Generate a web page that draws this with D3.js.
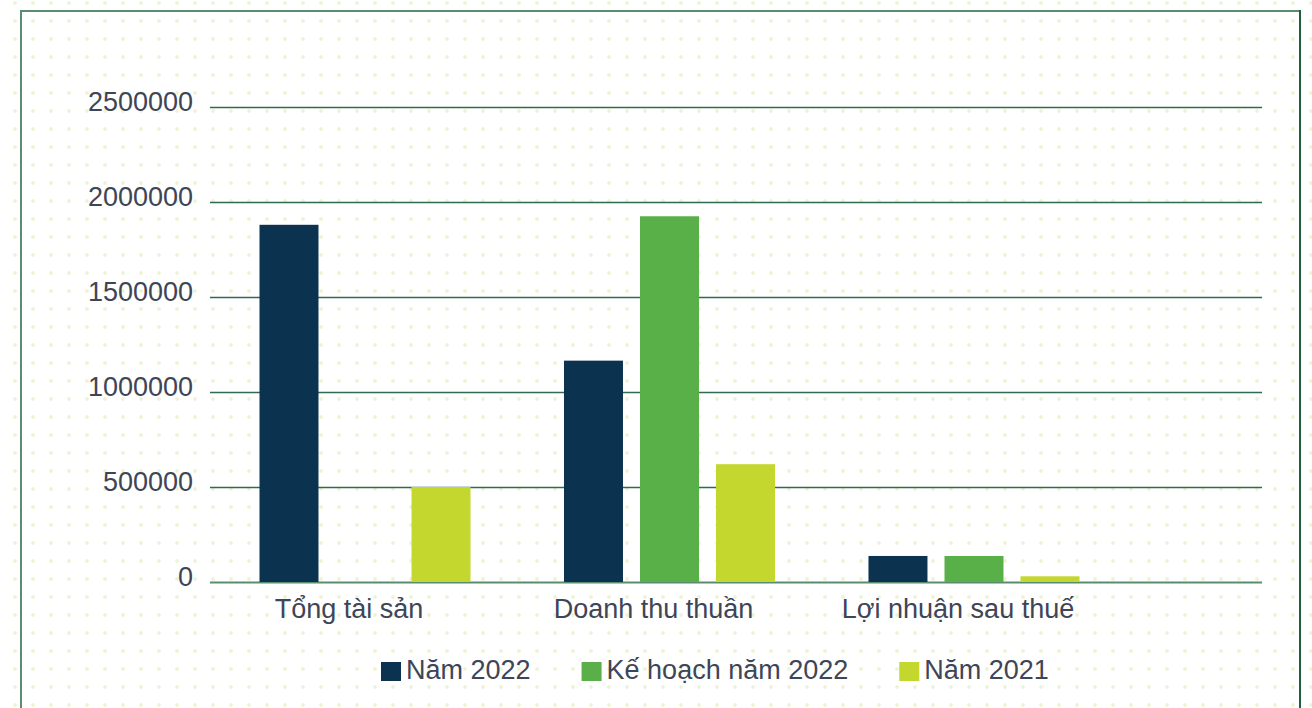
<!DOCTYPE html>
<html>
<head>
<meta charset="utf-8">
<script src="https://cdn.jsdelivr.net/npm/d3@7"></script>
<style>
  html, body { margin: 0; padding: 0; background: #ffffff; }
  svg { display: block; }
  text { font-family: "Liberation Sans", Arial, Helvetica, sans-serif; }
</style>
</head>
<body>
<svg id="chart" width="1312" height="708"></svg>
<script>
// ---- data ----
const categories = ["Tổng tài sản", "Doanh thu thuần", "Lợi nhuận sau thuế"];
const seriesNames = ["Năm 2022", "Kế hoạch năm 2022", "Năm 2021"];
const nam2022 = [1880000, 1165000, 137000];
const keHoach2022 = [0, 1925000, 137000];
const nam2021 = [500000, 620000, 30000];
const yTicks = [0, 500000, 1000000, 1500000, 2000000, 2500000];

const seriesValues = [nam2022, keHoach2022, nam2021];
const colors = ["#0b3350", "#5ab048", "#c3d72e"];
const textColor = "#3e4557";
const fontSize = 27;

const W = 1312, H = 708;
const svg = d3.select("#chart");

// dotted background
const dotsG = svg.append("g");
const dotX = d3.range(15, W, 18);
const dotY = d3.range(3, H, 18);
dotY.forEach(yy => {
  dotsG.selectAll(null).data(dotX).enter().append("circle")
    .attr("cx", d => d).attr("cy", yy).attr("r", 1.9).attr("fill", "#edf3d5");
});

// frame
svg.append("line").attr("x1", 21).attr("x2", 21).attr("y1", 11).attr("y2", H + 5)
  .attr("stroke", "#5b8b70").attr("stroke-width", 2);
svg.append("line").attr("x1", 20).attr("x2", 1301).attr("y1", 11).attr("y2", 11)
  .attr("stroke", "#5b8b70").attr("stroke-width", 2);
svg.append("line").attr("x1", 1300).attr("x2", 1300).attr("y1", 10).attr("y2", H + 5)
  .attr("stroke", "#1f5f3c").attr("stroke-width", 2);

// scales
const plotLeft = 210, plotRight = 1262, plotTop = 107, plotBottom = 582;
const y = d3.scaleLinear().domain([0, 2500000]).range([plotBottom, plotTop]);
const x0 = d3.scaleBand().domain(categories).range([259.5, 1079.5]).paddingInner(0.307).paddingOuter(0);
const x1 = d3.scaleBand().domain(seriesNames).range([0, x0.bandwidth()]).paddingInner(0.224).paddingOuter(0);

// y axis with gridlines
const yAxis = svg.append("g").attr("transform", `translate(${plotLeft},0)`)
  .call(d3.axisLeft(y).tickValues(yTicks).tickSize(-(plotRight - plotLeft)).tickPadding(17).tickFormat(d => String(d)));
yAxis.select(".domain").remove();
yAxis.selectAll(".tick line").attr("stroke", "#2f6b4f").attr("stroke-width", 1.6);
yAxis.selectAll(".tick").filter(d => d === 0).select("line").attr("stroke", "#5b8c72").attr("stroke-width", 2);
yAxis.selectAll(".tick text").attr("fill", textColor).attr("font-size", fontSize).attr("dy", "0.12em");

// bars
const groups = svg.append("g").selectAll("g").data(categories).enter().append("g")
  .attr("transform", d => `translate(${x0(d)},0)`);
groups.selectAll("rect")
  .data((cat, ci) => seriesNames.map((s, si) => ({ s, si, v: seriesValues[si][ci] })))
  .enter().append("rect")
  .filter(d => d.v > 0)
  .attr("x", d => x1(d.s))
  .attr("width", x1.bandwidth())
  .attr("y", d => y(d.v))
  .attr("height", d => y(0) - y(d.v))
  .attr("fill", d => colors[d.si]);

// x axis labels
const xAxis = svg.append("g").attr("transform", `translate(0,${plotBottom})`)
  .call(d3.axisBottom(x0).tickSize(0).tickPadding(16.5));
xAxis.select(".domain").remove();
xAxis.selectAll(".tick text").attr("fill", textColor).attr("font-size", fontSize).attr("dx", -16);

// legend
const legend = svg.append("g");
let lx = 381;
seriesNames.forEach((name, i) => {
  legend.append("rect").attr("x", lx).attr("y", 662).attr("width", 20).attr("height", 19).attr("fill", colors[i]);
  const t = legend.append("text").attr("x", lx + 25).attr("y", 679)
    .attr("font-size", fontSize).attr("fill", textColor).text(name);
  const w = t.node().getComputedTextLength();
  lx = lx + 25 + w + 51;
});
</script>
</body>
</html>
